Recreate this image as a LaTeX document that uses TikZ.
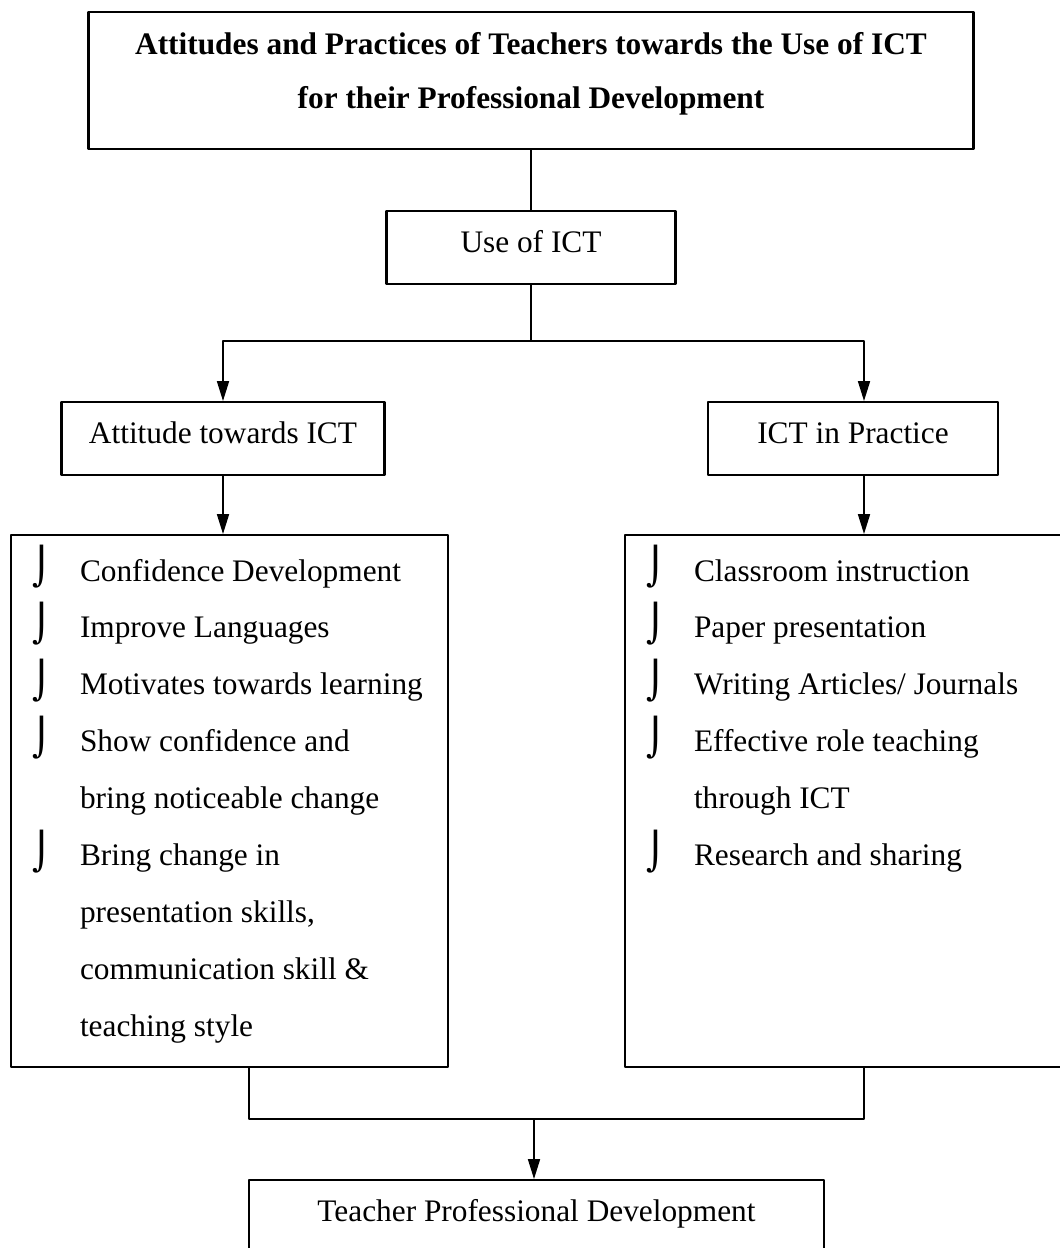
\documentclass[tikz,border=0pt]{standalone}
\usepackage{fontspec}
\setmainfont{Liberation Serif}
\newfontfamily\bulfont{DejaVu Sans}
\usetikzlibrary{arrows.meta}
\newlength\pxu
\setlength\pxu{0.383pt}
\newcommand\bul{\makebox[48\pxu][l]{\raisebox{0.5pt}{\bulfont\fontsize{14}{14}\selectfont ⌡}}}
\begin{document}
\begin{tikzpicture}[x=\pxu, y=-\pxu, >={Triangle[width=4.6pt,length=7.6pt]}, font=\fontsize{12}{14}\selectfont, line join=round,
	box/.style={draw, line width=0.8pt, inner sep=0pt, text height=16pt, text depth=12pt, anchor=north},
	listbox/.style={draw, line width=0.8pt, inner sep=0pt, anchor=north},
	conn/.style={line width=0.6pt}]
		\useasboundingbox (0,0) rectangle (1059,1248);
		\node[listbox] (title) at (531,11) {\parbox[c][137\pxu][t]{885\pxu}{\centering\fontsize{12}{20.7}\selectfont\bfseries\rule{0pt}{16.1pt}Attitudes and Practices of Teachers towards the Use of ICT\\for their Professional Development}};
		\node[box, minimum width={289*\pxu}] (use) at (531,210) {Use of ICT};
		\node[box, minimum width={323*\pxu}] (att) at (223,401) {Attitude towards ICT};
		\node[box, minimum width={290*\pxu}] (prac) at (853,401) {ICT in Practice};
		\node[listbox] (llist) at (229.5,534) {\parbox[c][532\pxu][t]{437\pxu}{\fontsize{12}{21.8}\selectfont\rule{0pt}{17.6pt}%
			\hspace*{21\pxu}\bul Confidence Development\\
			\hspace*{21\pxu}\bul Improve Languages\\
			\hspace*{21\pxu}\bul Motivates towards learning\\
			\hspace*{21\pxu}\bul Show confidence and\\
			\hspace*{69\pxu}bring noticeable change\\
			\hspace*{21\pxu}\bul Bring change in\\
			\hspace*{69\pxu}presentation skills,\\
			\hspace*{69\pxu}communication skill \&\\
			\hspace*{69\pxu}teaching style}};
		\node[listbox] (rlist) at (843.5,534) {\parbox[c][532\pxu][t]{437\pxu}{\fontsize{12}{21.8}\selectfont\rule{0pt}{17.6pt}%
			\hspace*{21\pxu}\bul Classroom instruction\\
			\hspace*{21\pxu}\bul Paper presentation\\
			\hspace*{21\pxu}\bul Writing Articles/ Journals\\
			\hspace*{21\pxu}\bul Effective role teaching\\
			\hspace*{69\pxu}through ICT\\
			\hspace*{21\pxu}\bul Research and sharing}};
		\node[box, minimum width={575*\pxu}] (bottom) at (536.5,1179) {Teacher Professional Development};
		\coordinate (split) at (531,341);
		\coordinate (lx) at (249,0);
		\coordinate (rx) at (864,0);
		\coordinate (join) at (534,1119);
		\draw[conn] (title.south) -- (use.north);
		\draw[conn] (use.south) -- (split);
		\draw[conn,->] (split) -| (att.north);
		\draw[conn,->] (split) -| (prac.north -| rx);
		\draw[conn,->] (att.south) -- (llist.north -| att.south);
		\draw[conn,->] (prac.south -| rx) -- (rlist.north -| rx);
		\draw[conn] (llist.south -| lx) |- (join) -| (rlist.south -| rx);
		\draw[conn,->] (join) -- (bottom.north -| join);
	\end{tikzpicture}
\end{document}
